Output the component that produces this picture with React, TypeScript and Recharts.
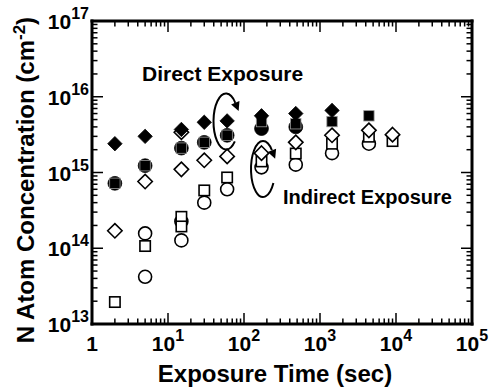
import React from 'react';
import { ScatterChart, Scatter, XAxis, YAxis } from 'recharts';

const W = 492;
const H = 389;
// axes are 1px thick boxes, so plot area = margin + 1
const M = { top: 20, right: 19, bottom: 64, left: 91 };
const FONT = '"Liberation Sans", Arial, Helvetica, sans-serif';

// exposure time (sec) and N atom concentration (cm^-2)
const directDiamondT = [2, 5, 15, 30, 60, 170, 480, 1440];
const directDiamondN = [2.4e15, 3.0e15, 3.7e15, 4.6e15, 4.8e15, 5.6e15, 6.0e15, 6.6e15];
const directSquareT = [2, 5, 15, 30, 60, 170, 480, 1440, 4400];
const directSquareN = [7.2e14, 1.23e15, 2.1e15, 2.5e15, 3.1e15, 4.7e15, 4.4e15, 4.7e15, 5.6e15];
const directCircleT = [2, 5, 15, 30, 60, 170, 480];
const directCircleN = [7.2e14, 1.23e15, 2.1e15, 2.5e15, 3.1e15, 3.8e15, 4.0e15];

const indirectDiamondT = [2, 5, 15, 15, 30, 60, 170, 480, 1440, 4400, 9000];
const indirectDiamondN = [1.7e14, 7.6e14, 3.4e15, 1.1e15, 1.45e15, 1.63e15, 1.8e15, 2.5e15, 3.1e15, 3.6e15, 3.16e15];
const indirectSquareT = [2, 5, 15, 15, 30, 60, 170, 480, 1440, 4400, 9000];
const indirectSquareN = [1.95e13, 1.07e14, 2.6e14, 1.94e14, 5.8e14, 8.6e14, 1.4e15, 1.78e15, 2.4e15, 2.97e15, 2.6e15];
const indirectCircleT = [5, 5, 15, 15, 30, 60, 170, 480, 1440, 4400];
const indirectCircleN = [1.57e14, 4.2e13, 2.26e14, 1.27e14, 4.0e14, 6.0e14, 1.17e15, 1.27e15, 1.8e15, 2.4e15];

// axis decades
const xDecades = [1, 10, 100, 1000, 10000, 100000];
const yDecades = [1e13, 1e14, 1e15, 1e16, 1e17];
const minorSteps = [2, 3, 4, 5, 6, 7, 8, 9];

const withMinor = (dec: number[]) => {
  const out: number[] = [];
  dec.forEach((d, i) => {
    out.push(d);
    if (i < dec.length - 1) minorSteps.forEach((m) => out.push(d * m));
  });
  return out;
};
const xTicks = withMinor(xDecades);
const yTicks = withMinor(yDecades);

const zip = (t: number[], n: number[]) => t.map((x, i) => ({ x, y: n[i] }));

const isMajor = (v: number) => Math.abs(Math.log10(v) - Math.round(Math.log10(v))) < 1e-6;
const expOf = (v: number) => Math.round(Math.log10(v));

const MAJOR = 11;
const MINOR = 5.5;

const Pow = ({ x, y, v, anchor }: any) => {
  const e = expOf(v);
  if (e === 0) {
    return (
      <text x={x} y={y} textAnchor={anchor} fontFamily={FONT} fontWeight="bold" fontSize={21} fill="#000">1</text>
    );
  }
  return (
    <text x={x} y={y} textAnchor={anchor} fontFamily={FONT} fontWeight="bold" fontSize={21} fill="#000">
      <tspan>10</tspan>
      <tspan dy={-10} fontSize={16}>{e}</tspan>
    </text>
  );
};

const BottomTick = (p: any) => {
  const { x, y, payload } = p;
  const major = isMajor(payload.value);
  return (
    <g>
      <line x1={x} x2={x} y1={y} y2={y - (major ? MAJOR : MINOR)} stroke="#000" strokeWidth={1.5} />
      {major && <Pow x={x} y={y + 27} v={payload.value} anchor="middle" />}
    </g>
  );
};

const TopTick = (p: any) => {
  const { x, y, payload } = p;
  const major = isMajor(payload.value);
  return <line x1={x} x2={x} y1={y} y2={y + (major ? MAJOR : MINOR)} stroke="#000" strokeWidth={1.5} />;
};

const LeftTick = (p: any) => {
  const { x, y, payload } = p;
  const major = isMajor(payload.value);
  return (
    <g>
      <line x1={x} x2={x + (major ? MAJOR : MINOR)} y1={y} y2={y} stroke="#000" strokeWidth={1.5} />
      {major && <Pow x={x - 3} y={y + 8} v={payload.value} anchor="end" />}
    </g>
  );
};

const RightTick = (p: any) => {
  const { x, y, payload } = p;
  const major = isMajor(payload.value);
  return <line x1={x} x2={x - (major ? MAJOR : MINOR)} y1={y} y2={y} stroke="#000" strokeWidth={1.5} />;
};

const diamond = (filled: boolean) => (p: any) => {
  const { cx, cy } = p;
  const r = 7.2;
  return (
    <path
      d={`M${cx},${cy - r}L${cx + r},${cy}L${cx},${cy + r}L${cx - r},${cy}Z`}
      fill={filled ? '#000' : '#fff'}
      stroke="#000"
      strokeWidth={filled ? 0.8 : 1.6}
    />
  );
};
const square = (filled: boolean) => (p: any) => {
  const { cx, cy } = p;
  const h = 5.2;
  return (
    <rect
      x={cx - h}
      y={cy - h}
      width={2 * h}
      height={2 * h}
      fill={filled ? '#000' : '#fff'}
      stroke={filled ? '#9a9a9a' : '#000'}
      strokeWidth={filled ? 0.8 : 1.6}
    />
  );
};
const circle = (filled: boolean) => (p: any) => {
  const { cx, cy } = p;
  return (
    <circle cx={cx} cy={cy} r={filled ? 6.9 : 6.5} fill={filled ? '#000' : '#fff'} stroke="#000" strokeWidth={filled ? 0.8 : 1.6} />
  );
};

// rotating arrow loop used for the two annotations
const Loop = ({ cx, cy, rx, ry, a0, a1 }: any) => {
  const rad = (a: number) => (a * Math.PI) / 180;
  const pt = (a: number) => [cx + rx * Math.cos(rad(a)), cy + ry * Math.sin(rad(a))];
  const [x0, y0] = pt(a0);
  const [x1, y1] = pt(a1);
  let dx = -rx * Math.sin(rad(a1));
  let dy = ry * Math.cos(rad(a1));
  const l = Math.hypot(dx, dy);
  dx /= l;
  dy /= l;
  const len = 9;
  const hw = 4.5;
  const tip = [x1 + dx * len, y1 + dy * len];
  const b1 = [x1 - dy * hw, y1 + dx * hw];
  const b2 = [x1 + dy * hw, y1 - dx * hw];
  return (
    <g>
      <path d={`M${x0},${y0}A${rx},${ry} 0 1 1 ${x1},${y1}`} fill="none" stroke="#000" strokeWidth={2} />
      <path d={`M${tip[0]},${tip[1]}L${b1[0]},${b1[1]}L${b2[0]},${b2[1]}Z`} fill="#000" />
    </g>
  );
};

export default function App() {
  const axisLine = { stroke: '#000', strokeWidth: 3, strokeLinecap: 'square' as const };
  const common = {
    type: 'number' as const,
    scale: 'log' as const,
    allowDataOverflow: true,
    interval: 0 as const,
    tickSize: 0,
    tickMargin: 0,
    axisLine,
    tickLine: false,
  };
  return (
    <div style={{ position: 'fixed', left: 0, top: 0, width: W, height: H, background: '#fff' }}>
      <ScatterChart width={W} height={H} margin={M}>
        <XAxis {...common} dataKey="x" domain={[1, 100000]} ticks={xTicks} height={1} tick={BottomTick} />
        <XAxis {...common} xAxisId="top" orientation="top" dataKey="x" domain={[1, 100000]} ticks={xTicks} height={1} tick={TopTick} />
        <YAxis {...common} dataKey="y" domain={[1e13, 1e17]} ticks={yTicks} width={1} tick={LeftTick} />
        <YAxis {...common} yAxisId="right" orientation="right" dataKey="y" domain={[1e13, 1e17]} ticks={yTicks} width={1} tick={RightTick} />
        <Scatter data={zip(indirectCircleT, indirectCircleN)} shape={circle(false)} isAnimationActive={false} />
        <Scatter data={zip(indirectSquareT, indirectSquareN)} shape={square(false)} isAnimationActive={false} />
        <Scatter data={zip(indirectDiamondT, indirectDiamondN)} shape={diamond(false)} isAnimationActive={false} />
        <Scatter data={zip(directCircleT, directCircleN)} shape={circle(true)} isAnimationActive={false} />
        <Scatter data={zip(directSquareT, directSquareN)} shape={square(true)} isAnimationActive={false} />
        <Scatter data={zip(directDiamondT, directDiamondN)} shape={diamond(true)} isAnimationActive={false} />
      </ScatterChart>
      <svg width={W} height={H} style={{ position: 'absolute', left: 0, top: 0, pointerEvents: 'none' }}>
        <g fontFamily={FONT} fontWeight="bold" fill="#000">
          <text x={142} y={81} fontSize={21}>Direct Exposure</text>
          <text x={283} y={204} fontSize={20}>Indirect Exposure</text>
          <text x={275} y={382} fontSize={24} textAnchor="middle">Exposure Time (sec)</text>
          <text x={34} y={180} fontSize={24} textAnchor="middle" transform="rotate(-90 34 180)">
            N Atom Concentration (cm<tspan dy={-9} fontSize={17}>-2</tspan><tspan dy={9}>)</tspan>
          </text>
        </g>
        <Loop cx={226} cy={121.5} rx={12.5} ry={28} a0={45} a1={318} />
        <Loop cx={263} cy={169} rx={12} ry={28} a0={30} a1={318} />
      </svg>
    </div>
  );
}
